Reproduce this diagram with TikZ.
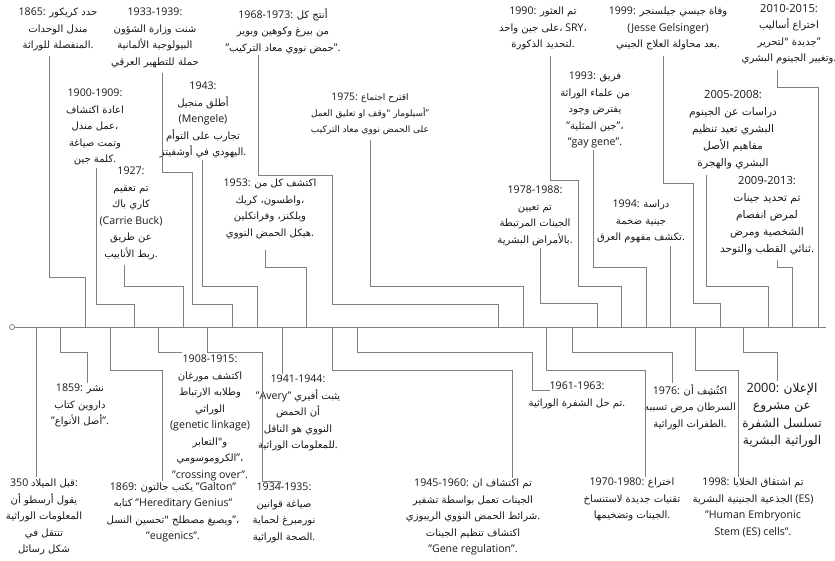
\documentclass[tikz,border=0pt]{standalone}
\usepackage{fontspec}
\setmainfont{Open Sans}
\newfontfamily\arfont[Script=Arabic,Scale=0.95]{DejaVu Sans}
\TeXXeTstate=1
\newcommand\AR[1]{{\arfont\beginR #1\endR}}
\newcommand\ARc{{\arfont ،}}
\definecolor{ln}{RGB}{128,128,128}
\definecolor{txt}{RGB}{25,25,25}
\tikzset{
  lab/.style={align=center, inner sep=0pt, anchor=north, text=txt,
    font=\fontsize{10.6pt}{16.5pt}\selectfont},
  labs/.style={lab, font=\fontsize{9.5pt}{16pt}\selectfont},
  labb/.style={lab, font=\fontsize{11.2pt}{17pt}\selectfont},
  labc/.style={lab, font=\fontsize{12.8pt}{17.5pt}\selectfont},
  con/.style={draw=ln, line width=0.8pt},
}
\begin{document}
\begin{tikzpicture}[x=1pt,y=-1pt]
\fill[white] (0,0) rectangle (835,561);
\useasboundingbox (0,0) rectangle (835,561);
% axis
\node[circle, draw=ln, line width=0.8pt, inner sep=0pt, minimum size=5pt] (start) at (12,327) {};
\coordinate (axend) at (826,327);
\draw[con] (start.east) -- (axend);
\foreach \n/\x in {k0/36,k1/60,k2/85,k3/110,k4/134,k5/158,k6/183,k7/207,k8/232,k9/257,k10/282,k11/306,k12/332,k13/357,k19/498,k20/523,k21/546,k22/572,k23/597,k24/621,k25/646,k26/670,k27/695,k28/720,k29/743,k30/768,k31/792,k32/818}
  \coordinate (\n) at (\x,327);

% ---------------- top labels ----------------
\node[lab] (T1865) at (58,8) {1865: \AR{حدد كريكور}\\ \AR{مندل الوحدات}\\ \AR{المنفصلة للوراثة}.};
\node[lab] (T1933) at (155,8) {1933-1939:\\ \AR{شنت وزارة الشؤون}\\ \AR{البيولوجية الألمانية}\\ \AR{حملة للتطهير العرقي}};
\node[lab] (T1900) at (95,89) {1900-1909:\\ \AR{اعادة اكتشاف}\\ \AR{عمل مندل}\ARc\\ \AR{وتمت صياغة}\\ \AR{كلمة جين}.};
\node[lab] (T1943) at (203,82) {1943:\\ \AR{أطلق منجيل}\\ (Mengele)\\ \AR{تجارب على التوأم}\\ \AR{اليهودي في أوشفيتز}.};
\node[lab] (T1927) at (131,167) {1927:\\ \AR{تم تعقيم}\\ \AR{كاري باك}\\ (Carrie Buck)\\ \AR{عن طريق}\\ \AR{ربط الأنابيب}.};
\node[lab] (T1968) at (283,8) {1968-1973: \AR{أنتج كل}\\ \AR{من بيرغ وكوهين وبوير}\\ "\AR{حمض نووي معاد التركيب}".};
\node[labs] (T1975) at (370,93) {{\fontsize{10.4pt}{16pt}\selectfont 1975:} \AR{اقترح اجتماع}\\ \AR{أسيلومار "وقف او تعليق العمل}"\\ \AR{على الحمض نووي معاد التركيب}};
\node[lab] (T1953) at (270,179) {1953: \AR{اكتشف كل من}\\ \AR{واطسون، كريك}\ARc\\ \AR{ويلكنز، وفرانكلين}\\ \AR{هيكل الحمض النووي}.};
\node[lab] (T1990) at (543,7) {1990: \AR{تم العثور}\\ \AR{على جين واحد}\ARc{} SRY\ARc\\ \AR{لتحديد الذكورة}.};
\node[lab] (T1993) at (595,72) {1993: \AR{فريق}\\ \AR{من علماء الوراثة}\\ \AR{يفترض وجود}\\ "\AR{جين المثلية}"\ARc\\ "gay gene".};
\node[lab] (T1978) at (535,186) {1978-1988:\\ \AR{تم تعيين}\\ \AR{الجينات المرتبطة}\\ \AR{بالأمراض البشرية}.};
\node[lab] (T1994) at (641,200) {1994: \AR{دراسة}\\ \AR{جينية ضخمة}\\ \AR{تكشف مفهوم العرق}.};
\node[lab] (T1999) at (668,7) {1999: \AR{وفاة جيسي جيلسنجر}\\ (Jesse Gelsinger)\\ \AR{بعد محاولة العلاج الجيني}.};
\node[labb] (T2005) at (733,90) {2005-2008:\\ \AR{دراسات عن الجينوم}\\ \AR{البشري تعيد تنظيم}\\ \AR{مفاهيم الأصل}\\ \AR{البشري والهجرة}};
\node[labb] (T2009) at (767,176) {2009-2013:\\ \AR{تم تحديد جينات}\\ \AR{لمرض انفصام}\\ \AR{الشخصية ومرض}\\ \AR{ثنائي القطب والتوحد}.};
\node[lab] (T2010) at (789,4) {{\fontsize{11.2pt}{16pt}\selectfont 2010-2015:}\\ \AR{اختراع أساليب}\\ \AR{جديدة "لتحرير}"\\ \AR{وتغيير الجينوم البشري}.};

% ---------------- bottom labels ----------------
\node[lab] (B350) at (44,479) {350 \AR{قبل الميلاد}:\\ \AR{يقول أرسطو أن}\\ \AR{المعلومات الوراثية}\\ \AR{تنتقل في}\\ \AR{شكل رسائل}};
\node[lab] (B1859) at (80,384) {1859: \AR{نشر}\\ \AR{داروين كتاب}\\ "\AR{أصل الأنواع}".};
\node[lab] (B1869) at (173,482) {1869: \AR{يكتب جالتون} "Galton"\\ \AR{كتابه} "Hereditary Genius"\\ \AR{ويصيغ مصطلح "تحسين النسل}"\ARc\\ "eugenics".};
\node[lab] (B1908) at (210,355) {1908-1915:\\ \AR{اكتشف مورغان}\\ \AR{وطلابه الارتباط}\\ \AR{الوراثي}\\ (genetic linkage)\\ \AR{و"التعابر}\\ \AR{الكروموسومي}"\ARc\\ "crossing over".};
\node[lab] (B1934) at (284,483) {1934-1935:\\ \AR{صياغة قوانين}\\ \AR{نورمبرغ لحماية}\\ \AR{الصحة الوراثية}.};
\node[lab] (B1941) at (298,375) {1941-1944:\\ "Avery" \AR{يثبت أفيري}\\ \AR{أن الحمض}\\ \AR{النووي هو الناقل}\\ \AR{للمعلومات الوراثية}.};
\node[lab] (B1945) at (473,479) {1945-1960: \AR{تم اكتشاف ان}\\ \AR{الجينات تعمل بواسطة تشفير}\\ \AR{شرائط الحمض النووي الريبوزي}.\\ \AR{اكتشاف تنظيم الجينات}\\ "Gene regulation".};
\node[lab] (B1961) at (577,382) {1961-1963:\\ \AR{تم حل الشفرة الوراثية}.};
\node[lab] (B1970) at (632,478) {1970-1980: \AR{اختراع}\\ \AR{تقنيات جديدة لاستنساخ}\\ \AR{الجينات وتضخيمها}.};
\node[lab] (B1976) at (690,384) {1976: \AR{اكتُشِف أن}\\ \AR{السرطان مرض تسببه}\\ \AR{الطفرات الوراثية}.};
\node[lab] (B1998) at (753,478) {1998: \AR{تم اشتقاق الخلايا}\\ \AR{الجذعية الجنينية البشرية} (ES)\\ "Human Embryonic\\ Stem (ES) cells".};
\node[labc] (B2000) at (782,383) {2000: \AR{الإعلان}\\ \AR{عن مشروع}\\ \AR{تسلسل الشفرة}\\ \AR{الوراثية البشرية}};

% ---------------- connector start points ----------------
\coordinate (s1865) at (49,56);
\coordinate (s1900) at (96,168);
\coordinate (s1927) at (124,265);
\coordinate (s1933) at (162,73);
\coordinate (s1943) at (202,160);
\coordinate (s1953) at (265,250);
\coordinate (s1968) at (258,55);
\coordinate (s1975) at (370,140);
\coordinate (s1978) at (540,248);
\coordinate (s1990) at (550,56);
\coordinate (s1993) at (593,150);
\coordinate (s1994) at (670,246);
\coordinate (s1999) at (663,56);
\coordinate (s2005) at (706,175);
\coordinate (s2009) at (777,260);
\coordinate (s2010) at (777,70);

% ---------------- top connectors ----------------
\draw[con] (s1865) |- (85,277) -- (k2);
\draw[con] (s1900) |- (134,304) -- (k4);
\draw[con] (s1927) |- (183,286) -- (k6);
\draw[con] (s1933) |- (192,172) |- (232,304) -- (k8);
\draw[con] (s1943) |- (257,286) -- (k9);
\draw[con] (s1953) |- (306,267) -- (k11);
\draw[con] (s1968) |- (332,175) |- (498,304) -- (k19);
\draw[con] (s1975) |- (523,286) -- (k20);
\draw[con] (s1978) |- (597,303) -- (k23);
\draw[con] (s1990) |- (578,180) |- (621,286) -- (k24);
\draw[con] (s1993) |- (646,267) -- (k25);
\draw[con] (s1994) -- (k26);
\draw[con] (s1999) |- (693,183) |- (720,303) -- (k28);
\draw[con] (s2005) |- (768,286) -- (k30);
\draw[con] (s2009) |- (792,267) -- (k31);
\draw[con] (s2010) |- (818,87) -- (k32);

% ---------------- bottom connectors ----------------
\coordinate (e350) at (36,477);
\coordinate (e1859) at (87,383);
\coordinate (e1869) at (162,481);
\coordinate (e1908) at (182,352);
\coordinate (e1934) at (280,484);
\coordinate (e1941) at (282,374);
\coordinate (e1945) at (512,478);
\coordinate (e1961) at (550,390);
\coordinate (e1970) at (645,477);
\coordinate (e1976) at (672,383);
\coordinate (e1998) at (738,477);
\coordinate (e2000) at (777,381);

\draw[con] (k0) -- (e350);
\draw[con] (k1) |- (87,352) -- (e1859);
\draw[con] (k3) |- (162,370) -- (e1869);
\draw[con] (k5) |- (e1908);
\draw[con] (k7) |- (262,352) |- (280,481) -- (e1934);
\draw[con] (k10) -- (e1941);
\draw[con] (k12) |- (512,370) -- (e1945);
\draw[con] (k13) |- (532,352) |- (e1961);
\draw[con] (k21) |- (645,370) -- (e1970);
\draw[con] (k22) |- (672,352) -- (e1976);
\draw[con] (k27) |- (738,370) -- (e1998);
\draw[con] (k29) |- (777,352) -- (e2000);
\end{tikzpicture}
\end{document}
